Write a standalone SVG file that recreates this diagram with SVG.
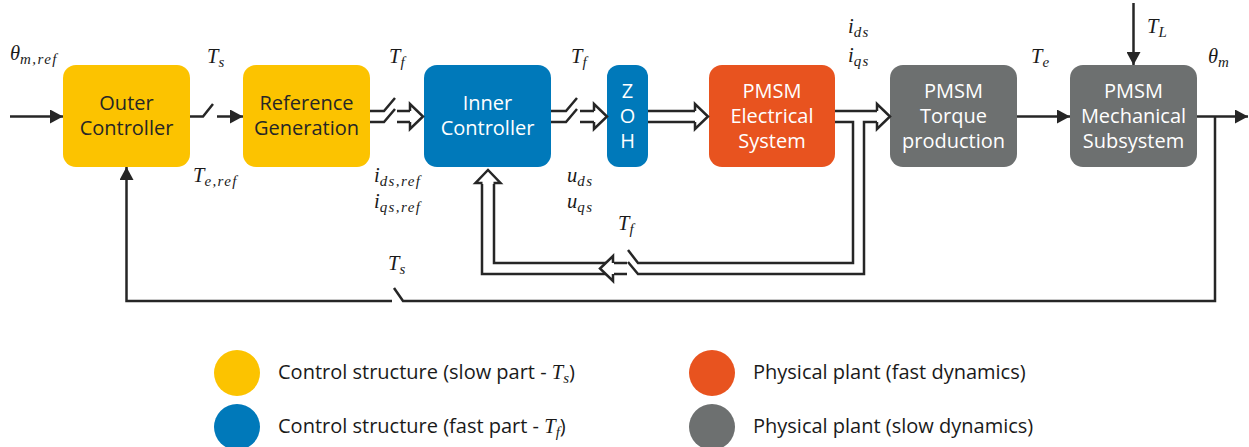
<svg xmlns="http://www.w3.org/2000/svg" xmlns:xlink="http://www.w3.org/1999/xlink" width="1249" height="447" viewBox="0 0 1249 447">
<style>
.ln{stroke:#262626;stroke-width:2.5;fill:none;stroke-linejoin:miter}
.hol{stroke:#262626;stroke-width:2.5;fill:#fff;stroke-linejoin:miter}
.bt{font-family:"Open Sans","Noto Sans",sans-serif;font-size:20px;text-anchor:middle}
.dk{fill:#262626}
.wt{fill:#ffffff}
.v{font-family:"Liberation Serif",serif;font-style:italic;font-size:20.5px;fill:#1a1a1a}
.s{font-size:15px;letter-spacing:1.4px}
.lg{font-family:"Open Sans","Noto Sans",sans-serif;font-size:20px;fill:#1a1a1a}
.lgv{font-family:"Liberation Serif",serif;font-style:italic;font-size:20.5px}
.lgs{font-family:"Liberation Serif",serif;font-style:italic;font-size:15px}
</style>
<defs>
<marker id="ah" viewBox="0 0 13 14" refX="13" refY="7" markerWidth="13" markerHeight="14" markerUnits="userSpaceOnUse" orient="auto">
<path d="M0,0 L13,7 L0,14 z" fill="#262626"/>
</marker>
<path id="hh" d="M-13,-5.5 V-12.5 L0,0 L-13,12.5 V5.5"/>
</defs>
<rect width="1249" height="447" fill="#ffffff"/>

<g id="outer-controller">
<rect x="63" y="65" width="127" height="102" rx="13" fill="#FCC300"/>
<text class="bt dk" x="126.5" y="110">Outer</text>
<text class="bt dk" x="126.5" y="135">Controller</text>
</g>
<g id="reference-generation">
<rect x="243" y="65" width="127" height="102" rx="13" fill="#FCC300"/>
<text class="bt dk" x="306.5" y="110">Reference</text>
<text class="bt dk" x="306.5" y="135">Generation</text>
</g>
<g id="inner-controller">
<rect x="424" y="65" width="127" height="102" rx="13" fill="#0079BA"/>
<text class="bt wt" x="487.5" y="110">Inner</text>
<text class="bt wt" x="487.5" y="135">Controller</text>
</g>
<g id="zoh">
<rect x="607" y="65" width="41" height="102" rx="12" fill="#0079BA"/>
<text class="bt wt" x="627.5" y="97.5">Z</text>
<text class="bt wt" x="627.5" y="122.5">O</text>
<text class="bt wt" x="627.5" y="147.5">H</text>
</g>
<g id="pmsm-electrical">
<rect x="709" y="65" width="126" height="102" rx="13" fill="#E8531F"/>
<text class="bt wt" x="772" y="97.5">PMSM</text>
<text class="bt wt" x="772" y="122.5">Electrical</text>
<text class="bt wt" x="772" y="147.5">System</text>
</g>
<g id="pmsm-torque">
<rect x="890" y="65" width="127" height="102" rx="13" fill="#6D7070"/>
<text class="bt wt" x="953.5" y="97.5">PMSM</text>
<text class="bt wt" x="953.5" y="122.5">Torque</text>
<text class="bt wt" x="953.5" y="147.5">production</text>
</g>
<g id="pmsm-mechanical">
<rect x="1070" y="65" width="127" height="102" rx="13" fill="#6D7070"/>
<text class="bt wt" x="1133.5" y="97.5">PMSM</text>
<text class="bt wt" x="1133.5" y="122.5">Mechanical</text>
<text class="bt wt" x="1133.5" y="147.5">Subsystem</text>
</g>

<g id="connectors">
<path class="ln" d="M10,116.5 H63" marker-end="url(#ah)"/>
<path class="ln" d="M190,116.5 H203 L213,104"/>
<path class="ln" d="M217,116.5 H243" marker-end="url(#ah)"/>
<path class="ln" d="M370,111 H384 L395,98 M370,122 H384 L395,109 M397,111 H410 M397,122 H410"/>
<use href="#hh" class="hol" transform="translate(423,116.5)"/>
<path class="ln" d="M551,111 H566 L577,98 M551,122 H566 L577,109 M580,111 H594 M580,122 H594"/>
<use href="#hh" class="hol" transform="translate(607,116.5)"/>
<path class="ln" d="M648,111 H695 M648,122 H695"/>
<use href="#hh" class="hol" transform="translate(708,116.5)"/>
<path class="ln" d="M835,111 H877 M835,122 H853 V263 H638 L628,250 M877,122 H864 V274 H638 L628,262"/>
<use href="#hh" class="hol" transform="translate(890,116.5)"/>
<path class="ln" d="M627,263 H614 M627,274 H614 M606,263 H494 V184 M606,274 H482 V184"/>
<use href="#hh" class="hol" transform="translate(600,268.5) rotate(180)"/>
<use href="#hh" class="hol" transform="translate(488,170) rotate(-90)"/>
<path class="ln" d="M1017,116.5 H1070" marker-end="url(#ah)"/>
<path class="ln" d="M1197,116.5 H1248" marker-end="url(#ah)"/>
<path class="ln" d="M1133.5,3 V65" marker-end="url(#ah)"/>
<path class="ln" d="M1215,116.5 V301 H403 L394,288"/>
<path class="ln" d="M392,301 H126.5 V167" marker-end="url(#ah)"/>
</g>

<g id="labels">
<text class="v" x="10" y="60">θ<tspan class="s" dy="3.5">m,ref</tspan></text>
<text class="v" x="207" y="63">T<tspan class="s" dy="3.5">s</tspan></text>
<text class="v" x="389" y="63">T<tspan class="s" dy="3.5">f</tspan></text>
<text class="v" x="193" y="182">T<tspan class="s" dy="3.5">e,ref</tspan></text>
<text class="v" x="374" y="182">i<tspan class="s" dy="3.5">ds,ref</tspan></text>
<text class="v" x="374" y="208">i<tspan class="s" dy="3.5">qs,ref</tspan></text>
<text class="v" x="571" y="63">T<tspan class="s" dy="3.5">f</tspan></text>
<text class="v" x="567" y="182">u<tspan class="s" dy="3.5">ds</tspan></text>
<text class="v" x="567" y="208">u<tspan class="s" dy="3.5">qs</tspan></text>
<text class="v" x="618" y="230">T<tspan class="s" dy="3.5">f</tspan></text>
<text class="v" x="388" y="270">T<tspan class="s" dy="3.5">s</tspan></text>
<text class="v" x="848" y="33">i<tspan class="s" dy="3.5">ds</tspan></text>
<text class="v" x="848" y="62">i<tspan class="s" dy="3.5">qs</tspan></text>
<text class="v" x="1031" y="63">T<tspan class="s" dy="3.5">e</tspan></text>
<text class="v" x="1147" y="33">T<tspan class="s" dy="3.5">L</tspan></text>
<text class="v" x="1208" y="63">θ<tspan class="s" dy="3.5">m</tspan></text>
</g>

<g id="legend">
<circle cx="237" cy="373" r="23" fill="#FCC300"/>
<circle cx="237" cy="427" r="23" fill="#0079BA"/>
<circle cx="712" cy="373" r="23" fill="#E8531F"/>
<circle cx="712" cy="427" r="23" fill="#6D7070"/>
<text class="lg" x="278" y="379">Control structure (slow part - <tspan class="lgv">T</tspan><tspan class="lgs" dy="3.5">s</tspan><tspan dy="-3.5">)</tspan></text>
<text class="lg" x="278" y="433">Control structure (fast part - <tspan class="lgv">T</tspan><tspan class="lgs" dy="3.5">f</tspan><tspan dy="-3.5">)</tspan></text>
<text class="lg" x="753" y="379">Physical plant (fast dynamics)</text>
<text class="lg" x="753" y="433">Physical plant (slow dynamics)</text>
</g>
</svg>
